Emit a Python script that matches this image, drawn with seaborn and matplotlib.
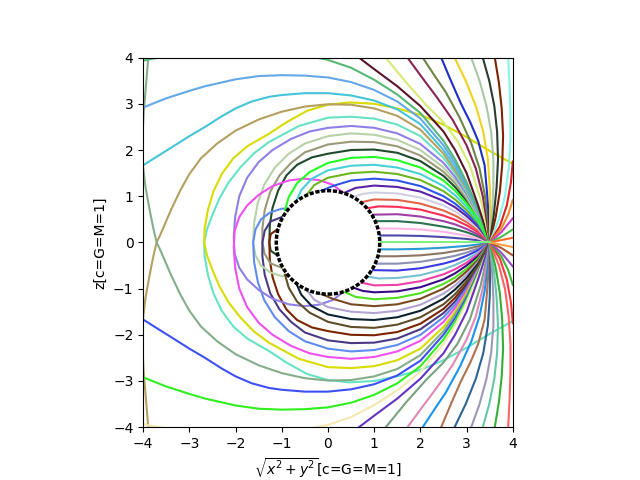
import matplotlib
matplotlib.use("Agg")
import matplotlib.pyplot as plt
import seaborn as sns

# light rays leaving the source at (3.5, 0); the picture is mirror symmetric
# about z=0, so every shape is drawn once upward (upper colour) and once
# mirrored (lower colour)

axis_x = [3.5, 1.1]
axis_z = [0.0, 0.0]
axis_color = "#80f080"

# rays that fall straight into the hole
hit_x = [
    [3.5, 3.25, 3.0, 2.5, 2.0, 1.5, 1.11],
    [3.5, 3.4, 3.25, 3.0, 2.5, 2.0, 1.5, 1.09],
    [3.5, 3.4, 3.25, 3.0, 2.75, 2.5, 2.0, 1.5, 1.05],
    [3.5, 3.4, 3.25, 3.0, 2.75, 2.5, 2.0, 1.5, 0.97],
    [3.5, 3.4, 3.25, 3.0, 2.75, 2.5, 2.0, 1.5, 1.1, 0.85],
    [3.5, 3.4, 3.25, 3.0, 2.75, 2.5, 2.0, 1.5, 1.0, 0.72],
    [3.5, 3.4, 3.25, 3.0, 2.75, 2.5, 2.0, 1.5, 1.0, 0.75, 0.55],
    [3.5, 3.4, 3.25, 3.0, 2.75, 2.5, 2.0, 1.5, 1.0, 0.6, 0.35],
    [3.5, 3.4, 3.25, 3.0, 2.75, 2.5, 2.0, 1.5, 1.0, 0.5, 0.1, -0.18],
    [3.5, 3.4, 3.25, 3.0, 2.75, 2.5, 2.0, 1.5, 1.0, 0.5, 0.0, -0.3, -0.46],
    [3.5, 3.4, 3.25, 3.0, 2.75, 2.5, 2.0, 1.5, 1.0, 0.5, 0.0, -0.35, -0.58, -0.68],
    [3.5, 3.4, 3.25, 3.0, 2.75, 2.5, 2.0, 1.5, 1.0, 0.5, 0.0, -0.4, -0.67, -0.85, -0.93],
]
hit_z = [
    [0, 0.045, 0.075, 0.115, 0.14, 0.15, 0.15],
    [0, 0.035, 0.085, 0.145, 0.23, 0.28, 0.30, 0.30],
    [0, 0.055, 0.13, 0.22, 0.29, 0.34, 0.42, 0.46, 0.46],
    [0, 0.07, 0.17, 0.29, 0.39, 0.46, 0.56, 0.61, 0.60],
    [0, 0.09, 0.22, 0.37, 0.49, 0.58, 0.71, 0.77, 0.78, 0.74],
    [0, 0.11, 0.26, 0.44, 0.58, 0.69, 0.84, 0.92, 0.93, 0.87],
    [0, 0.13, 0.30, 0.50, 0.67, 0.80, 0.97, 1.06, 1.08, 1.05, 0.98],
    [0, 0.14, 0.34, 0.57, 0.76, 0.90, 1.10, 1.20, 1.23, 1.18, 1.07],
    [0, 0.16, 0.38, 0.63, 0.84, 1.00, 1.22, 1.34, 1.38, 1.34, 1.22, 1.10],
    [0, 0.17, 0.42, 0.70, 0.93, 1.11, 1.35, 1.48, 1.53, 1.50, 1.40, 1.24, 1.03],
    [0, 0.19, 0.46, 0.77, 1.02, 1.22, 1.48, 1.62, 1.68, 1.66, 1.56, 1.38, 1.13, 0.90],
    [0, 0.20, 0.50, 0.84, 1.12, 1.34, 1.62, 1.78, 1.85, 1.83, 1.72, 1.52, 1.28, 0.98, 0.70],
]
hit_upper = ["#4b4ba8", "#ffb6e6", "#2a7250", "#9e3fa6", "#ff2d55", "#e0654a",
             "#cfcfe3", "#5a22a8", "#2f55e8", "#6cb61e", "#46d2d6", "#22ff22"]
hit_lower = ["#2a9bd8", "#8e7664", "#8c90b2", "#3a3ae2", "#76c2d2", "#f040a8",
             "#3a0a8a", "#4fe01e", "#7a4a22", "#b4a4d4", "#0c2230", "#5e4e2a"]

# rays that wind round the hole
wrap_x = [
    [3.5, 3.4, 3.25, 3.0, 2.75, 2.5, 2.0, 1.5, 1.0, 0.5, 0.0, -0.35, -0.67, -0.9,
     -1.08, -1.2, -1.26, -1.27, -1.24, -1.1],
    [3.5, 3.4, 3.25, 3.0, 2.75, 2.5, 2.0, 1.5, 1.0, 0.5, 0.0, -0.5, -0.8, -1.05,
     -1.25, -1.37, -1.42, -1.42, -1.37, -1.25, -1.0],
    [3.5, 3.4, 3.25, 3.0, 2.75, 2.5, 2.0, 1.5, 1.0, 0.5, 0.0, -0.5, -0.85, -1.15,
     -1.38, -1.52, -1.6, -1.62, -1.57, -1.45, -1.25, -1.0, -0.86],
    [3.5, 3.4, 3.25, 3.0, 2.75, 2.5, 2.0, 1.5, 1.0, 0.5, 0.0, -0.4, -0.8, -1.2,
     -1.5, -1.75, -1.92, -2.01, -2.04, -2.02, -1.92, -1.75, -1.5, -1.2, -0.85,
     -0.52, -0.2, 0.1, 0.31],
    [3.5, 3.4, 3.25, 3.0, 2.75, 2.5, 2.0, 1.5, 1.0, 0.5, 0.0, -0.63, -1.28, -1.6,
     -1.9, -2.15, -2.35, -2.5, -2.62, -2.68, -2.67, -2.6, -2.48, -2.3, -2.05, -1.75,
     -1.28, -0.9, -0.45, 0.0, 0.46, 1.0, 1.5, 2.0, 2.5, 3.0, 3.5, 4.0],
    [3.5, 3.4, 3.25, 3.0, 2.75, 2.5, 2.0, 1.5, 1.0, 0.5, 0.0, -0.5, -1.0, -1.5,
     -2.0, -2.4, -2.75, -3.0, -3.2, -3.4, -3.55, -3.65, -3.71, -3.78, -3.86, -3.95,
     -4.01, -4.02, -3.99, -3.94, -3.89, -3.86],
]
wrap_z = [
    [0, 0.22, 0.53, 0.90, 1.20, 1.44, 1.76, 1.94, 2.01, 2.00, 1.92, 1.84, 1.68, 1.45,
     1.12, 0.75, 0.38, 0.0, -0.18, -0.28],
    [0, 0.23, 0.55, 0.95, 1.28, 1.53, 1.88, 2.08, 2.17, 2.18, 2.12, 1.95, 1.72, 1.45,
     1.10, 0.70, 0.30, 0.0, -0.25, -0.45, -0.55],
    [0, 0.24, 0.57, 1.00, 1.35, 1.62, 2.00, 2.22, 2.33, 2.36, 2.30, 2.14, 1.92, 1.62,
     1.25, 0.85, 0.42, 0.0, -0.28, -0.50, -0.65, -0.73, -0.73],
    [0, 0.25, 0.60, 1.05, 1.42, 1.72, 2.13, 2.36, 2.48, 2.52, 2.48, 2.40, 2.24, 2.00,
     1.74, 1.40, 1.00, 0.55, 0.10, -0.25, -0.55, -0.80, -1.03, -1.22, -1.34, -1.38,
     -1.35, -1.25, -1.09],
    [0, 0.26, 0.62, 1.10, 1.50, 1.83, 2.30, 2.55, 2.68, 2.72, 2.70, 2.52, 2.17, 1.93,
     1.62, 1.30, 0.95, 0.60, 0.28, 0.0, -0.30, -0.70, -1.10, -1.48, -1.82, -2.08,
     -2.35, -2.60, -2.85, -2.98, -3.03, -3.0, -2.90, -2.76, -2.55, -2.28, -1.98, -1.70],
    [0, 0.27, 0.64, 1.15, 1.56, 1.92, 2.44, 2.74, 2.90, 2.98, 2.99, 2.94, 2.83, 2.66,
     2.42, 2.14, 1.82, 1.48, 1.12, 0.70, 0.35, 0.12, 0.0, -0.30, -0.70, -1.20,
     -1.70, -2.20, -2.80, -3.40, -4.0, -4.3],
]
wrap_upper = ["#1f4a2c", "#9a9a78", "#b8d2a8", "#9080e6", "#66e2c4", "#b4a060"]
wrap_lower = ["#7a2400", "#4a3a86", "#5f8cf0", "#f050f0", "#d8dc00", "#84ae8a"]

# rays that escape through the left edge
left_x = [
    [3.5, 3.4, 3.25, 3.0, 2.75, 2.5, 2.0, 1.5, 1.0, 0.5, 0.0, -0.5, -1.0, -1.28,
     -1.65, -2.0, -2.3, -2.66, -3.0, -3.3, -3.7, -4.0],
    [3.5, 3.4, 3.25, 3.0, 2.75, 2.5, 2.0, 1.5, 1.0, 0.5, 0.0, -0.5, -1.0, -1.5,
     -2.0, -2.66, -3.0, -3.5, -4.0],
    [3.5, 3.4, 3.25, 3.0, 2.75, 2.5, 2.0, 1.5, 1.0, 0.5, 0.0, -0.5, -1.0, -2.0,
     -3.0, -3.5, -3.85, -4.0],
]
left_z = [
    [0, 0.28, 0.66, 1.20, 1.64, 2.00, 2.56, 2.88, 3.07, 3.18, 3.23, 3.23, 3.19, 3.15,
     3.05, 2.90, 2.73, 2.50, 2.30, 2.11, 1.86, 1.67],
    [0, 0.29, 0.69, 1.25, 1.72, 2.10, 2.68, 3.05, 3.30, 3.47, 3.57, 3.61, 3.62, 3.60,
     3.53, 3.38, 3.28, 3.12, 2.92],
    [0, 0.30, 0.72, 1.30, 1.80, 2.20, 2.80, 3.20, 3.52, 3.78, 3.95, 4.05, 4.10, 4.13,
     4.08, 4.02, 3.97, 3.93],
]
left_upper = ["#46c4d8", "#64a8e8", "#56b874"]
left_lower = ["#3f50f2", "#2ff01e", "#f4e8b0"]

# rays leaving through the top edge
top_x = [
    [3.5, 3.4, 3.25, 3.0, 2.75, 2.5, 2.0, 1.5, 1.0, 0.67],
    [3.5, 3.42, 3.3, 3.07, 2.8, 2.5, 2.12, 1.7, 1.25],
    [3.5, 3.44, 3.35, 3.2, 3.0, 2.7, 2.35, 2.05, 1.72],
    [3.5, 3.46, 3.39, 3.28, 3.1, 2.85, 2.55, 2.3, 2.05],
    [3.5, 3.48, 3.44, 3.39, 3.25, 3.08, 2.88, 2.66, 2.45],
    [3.5, 3.51, 3.5, 3.46, 3.36, 3.2, 2.98, 2.74],
    [3.5, 3.55, 3.58, 3.58, 3.53, 3.43, 3.28, 3.10],
    [3.5, 3.59, 3.65, 3.68, 3.66, 3.6, 3.49, 3.35],
    [3.5, 3.63, 3.72, 3.77, 3.79, 3.76, 3.7, 3.61],
    [3.5, 3.7, 3.83, 3.91, 3.95, 3.95, 3.93, 3.90],
]
top_z = [
    [0, 0.33, 0.80, 1.50, 2.00, 2.40, 2.95, 3.38, 3.75, 4.0],
    [0, 0.40, 0.95, 1.67, 2.20, 2.60, 2.98, 3.45, 4.0],
    [0, 0.45, 1.00, 1.60, 2.10, 2.65, 3.15, 3.55, 4.0],
    [0, 0.50, 1.05, 1.60, 2.15, 2.70, 3.25, 3.62, 4.0],
    [0, 0.55, 1.10, 1.67, 2.20, 2.60, 3.00, 3.50, 4.0],
    [0, 0.60, 1.20, 1.80, 2.40, 2.95, 3.50, 4.0],
    [0, 0.60, 1.20, 1.80, 2.40, 2.95, 3.50, 4.0],
    [0, 0.60, 1.20, 1.80, 2.40, 2.95, 3.50, 4.0],
    [0, 0.55, 1.10, 1.67, 2.30, 2.90, 3.45, 4.0],
    [0, 0.50, 1.00, 1.60, 2.20, 2.80, 3.40, 4.0],
]
top_upper = ["#5a1628", "#d4ec74", "#882452", "#6c8444", "#1e2ec8",
             "#f2d21e", "#a8c8a8", "#2c3c32", "#7e2200", "#86f4e8"]
top_lower = ["#6434c0", "#78a282", "#e088b8", "#1a94f0", "#b07250",
             "#2e6494", "#9c98b8", "#64c8a8", "#34b034", "#ff6464"]

# rays leaving through the right edge
right_x = [
    [3.5, 3.72, 3.87, 3.96, 4.0],
    [3.5, 3.75, 3.9, 4.0],
    [3.5, 3.75, 4.0],
    [3.5, 3.75, 4.0],
    [3.5, 4.0],
]
right_z = [
    [0, 0.35, 0.80, 1.30, 1.75],
    [0, 0.30, 0.60, 0.92],
    [0, 0.22, 0.52],
    [0, 0.12, 0.28],
    [0, 0.10],
]
right_upper = ["#e02424", "#f08a2a", "#c83cc8", "#48c048", "#ff6a2a"]
right_lower = ["#ff3838", "#3cb83c", "#9a4ad0", "#a85a28", "#ffa040"]

hole_radius = 1.12

fig, ax = plt.subplots(figsize=(6.4, 4.8), dpi=100)


def draw(xs, zs, color):
    sns.lineplot(x=xs, y=zs, sort=False, estimator=None, color=color,
                 lw=1.5, ax=ax, legend=False)


for xs, zs, cu, cl in zip(wrap_x, wrap_z, wrap_upper, wrap_lower):
    draw(xs, zs, cu)
    draw(xs, [-v for v in zs], cl)
for xs, zs, cu, cl in zip(left_x, left_z, left_upper, left_lower):
    draw(xs, zs, cu)
    draw(xs, [-v for v in zs], cl)
for xs, zs, cu, cl in zip(hit_x, hit_z, hit_upper, hit_lower):
    draw(xs, zs, cu)
    draw(xs, [-v for v in zs], cl)
for xs, zs, cu, cl in zip(top_x, top_z, top_upper, top_lower):
    draw(xs, zs, cu)
    draw(xs, [-v for v in zs], cl)
for xs, zs, cu, cl in zip(right_x, right_z, right_upper, right_lower):
    draw(xs, zs, cu)
    draw(xs, [-v for v in zs], cl)
draw(axis_x, axis_z, axis_color)

hole = plt.Circle((0, 0), hole_radius, facecolor="white", edgecolor="black",
                  linestyle=(0, (1.2, 0.5)), linewidth=2.5, zorder=10)
ax.add_patch(hole)

ax.set_xlim(-4, 4)
ax.set_ylim(-4, 4)
ax.set_aspect("equal")
ax.set_xticks(range(-4, 5))
ax.set_yticks(range(-4, 5))
ax.set_xlabel(r"$\sqrt{x^2+y^2}$[c=G=M=1]")
ax.set_ylabel("z[c=G=M=1]")

fig.savefig("out.png", dpi=100)
